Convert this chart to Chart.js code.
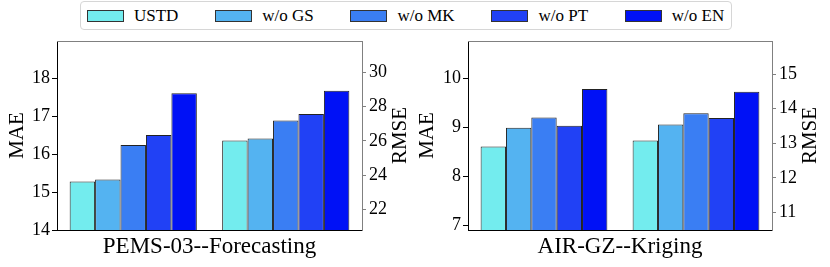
<!DOCTYPE html>
<html>
<head>
<meta charset="utf-8">
<script src="https://cdn.jsdelivr.net/npm/chart.js@4/dist/chart.umd.min.js"></script>
<style>
  body { margin: 0; background: #fff; width: 830px; height: 267px; overflow: hidden; position: relative;
         font-family: "Liberation Serif", "Times New Roman", Times, "DejaVu Serif", serif; }
  #left { position: absolute; left: 0; top: 0; }
  #right { position: absolute; left: 412px; top: 0; }
  #legend {
    position: absolute; left: 80px; top: 1px; width: 652px; height: 29px;
    box-sizing: border-box; border: 1px solid #d6d6d6; border-radius: 4px; background: #fff;
    display: flex; align-items: center; padding-left: 6px; gap: 36.8px; z-index: 2;
  }
  .item { display: flex; align-items: center; font-size: 17px; white-space: nowrap; }
  .swatch { width: 37px; height: 12px; box-sizing: border-box; border: 1px solid #333; margin-right: 10px; }
</style>
</head>
<body>
<div id="legend"></div>
<canvas id="left" width="412" height="267"></canvas>
<canvas id="right" width="418" height="267"></canvas>
<script>
const methods = ["USTD", "w/o GS", "w/o MK", "w/o PT", "w/o EN"];
const colors = ["#73ECEE", "#54B3F1", "#3A7EF3", "#2141F5", "#0011F6"];

// PEMS-03 forecasting
const pemsMae = [15.28, 15.33, 16.24, 16.5, 17.6];
const pemsRmse = [26.03, 26.15, 27.2, 27.57, 28.92];
// AIR-GZ kriging
const airMae = [8.61, 8.99, 9.2, 9.03, 9.78];
const airRmse = [13.08, 13.54, 13.87, 13.73, 14.49];

const FONT = '"Liberation Serif", "Times New Roman", Times, "DejaVu Serif", serif';

// html legend, shared by both panels
const legendEl = document.getElementById("legend");
methods.forEach((m, i) => {
  const item = document.createElement("div");
  item.className = "item";
  item.innerHTML = `<span class="swatch" style="background:${colors[i]}"></span>${m}`;
  legendEl.appendChild(item);
});

// top spine (grey) + RMSE label reading bottom-to-top
const framePlugin = {
  id: "frame",
  afterDraw(chart, args, opts) {
    const { ctx, chartArea: a } = chart;
    ctx.save();
    ctx.strokeStyle = "#808080";
    ctx.lineWidth = 1;
    ctx.beginPath();
    ctx.moveTo(a.left, a.top + 0.5);
    ctx.lineTo(a.right, a.top + 0.5);
    ctx.stroke();
    ctx.translate(a.right + 38, (a.top + a.bottom) / 2);
    ctx.rotate(-Math.PI / 2);
    ctx.font = `21px ${FONT}`;
    ctx.fillStyle = "#000";
    ctx.textAlign = "center";
    ctx.textBaseline = "middle";
    ctx.fillText(opts.text, 0, 0);
    ctx.restore();
  },
};

function makeChart(id, title, mae, rmse, maeRange, rmseRange, maeStep, rmseStep, leftW, rightW, titlePad) {
  const datasets = [];
  methods.forEach((m, i) => {
    datasets.push({ label: m, data: [mae[i], null], yAxisID: "y", backgroundColor: colors[i] });
  });
  methods.forEach((m, i) => {
    datasets.push({ label: m, data: [null, rmse[i]], yAxisID: "y1", backgroundColor: colors[i] });
  });
  datasets.forEach((d) => {
    d.borderColor = "#222";
    d.borderWidth = 1;
    d.borderSkipped = false;
    d.categoryPercentage = 0.834;
    d.barPercentage = 1.0;
    d.skipNull = true;
  });

  return new Chart(document.getElementById(id), {
    type: "bar",
    data: { labels: ["MAE", "RMSE"], datasets },
    plugins: [framePlugin],
    options: {
      responsive: false,
      animation: false,
      layout: { padding: { top: 41, left: 0, right: 0, bottom: 0 } },
      plugins: {
        legend: { display: false },
        tooltip: { enabled: false },
        frame: { text: "RMSE" },
      },
      scales: {
        x: {
          grid: { display: false },
          border: { color: "#000", width: 1 },
          ticks: { display: false },
          title: {
            display: true,
            text: title,
            color: "#000",
            font: { family: FONT, size: 23 },
            padding: { top: 0, bottom: 6 },
          },
          afterFit: (s) => { s.height = 37; },
        },
        y: {
          position: "left",
          min: maeRange[0],
          max: maeRange[1],
          grid: { drawOnChartArea: false, drawTicks: true, tickLength: 5, color: "#000" },
          border: { color: "#000", width: 1 },
          ticks: {
            stepSize: maeStep,
            includeBounds: false,
            padding: 2,
            color: "#000",
            font: { family: FONT, size: 18 },
          },
          title: {
            display: true,
            text: "MAE",
            color: "#000",
            font: { family: FONT, size: 21 },
            padding: { top: titlePad, bottom: 0 },
          },
          afterFit: (s) => { s.width = leftW; },
        },
        y1: {
          position: "right",
          min: rmseRange[0],
          max: rmseRange[1],
          grid: { drawOnChartArea: false, drawTicks: true, tickLength: 4, color: "#808080" },
          border: { color: "#808080", width: 1 },
          ticks: {
            stepSize: rmseStep,
            includeBounds: false,
            padding: 3,
            color: "#000",
            font: { family: FONT, size: 18 },
          },
          afterFit: (s) => { s.width = rightW; },
        },
      },
    },
  });
}

makeChart("left", "PEMS-03--Forecasting", pemsMae, pemsRmse, [14, 18.98], [20.82, 31.82], 1, 2, 57, 50, 4.4);
makeChart("right", "AIR-GZ--Kriging", airMae, airRmse, [6.906, 10.76], [10.49, 15.96], 1, 1, 56, 58, 2.7);
</script>
</body>
</html>
